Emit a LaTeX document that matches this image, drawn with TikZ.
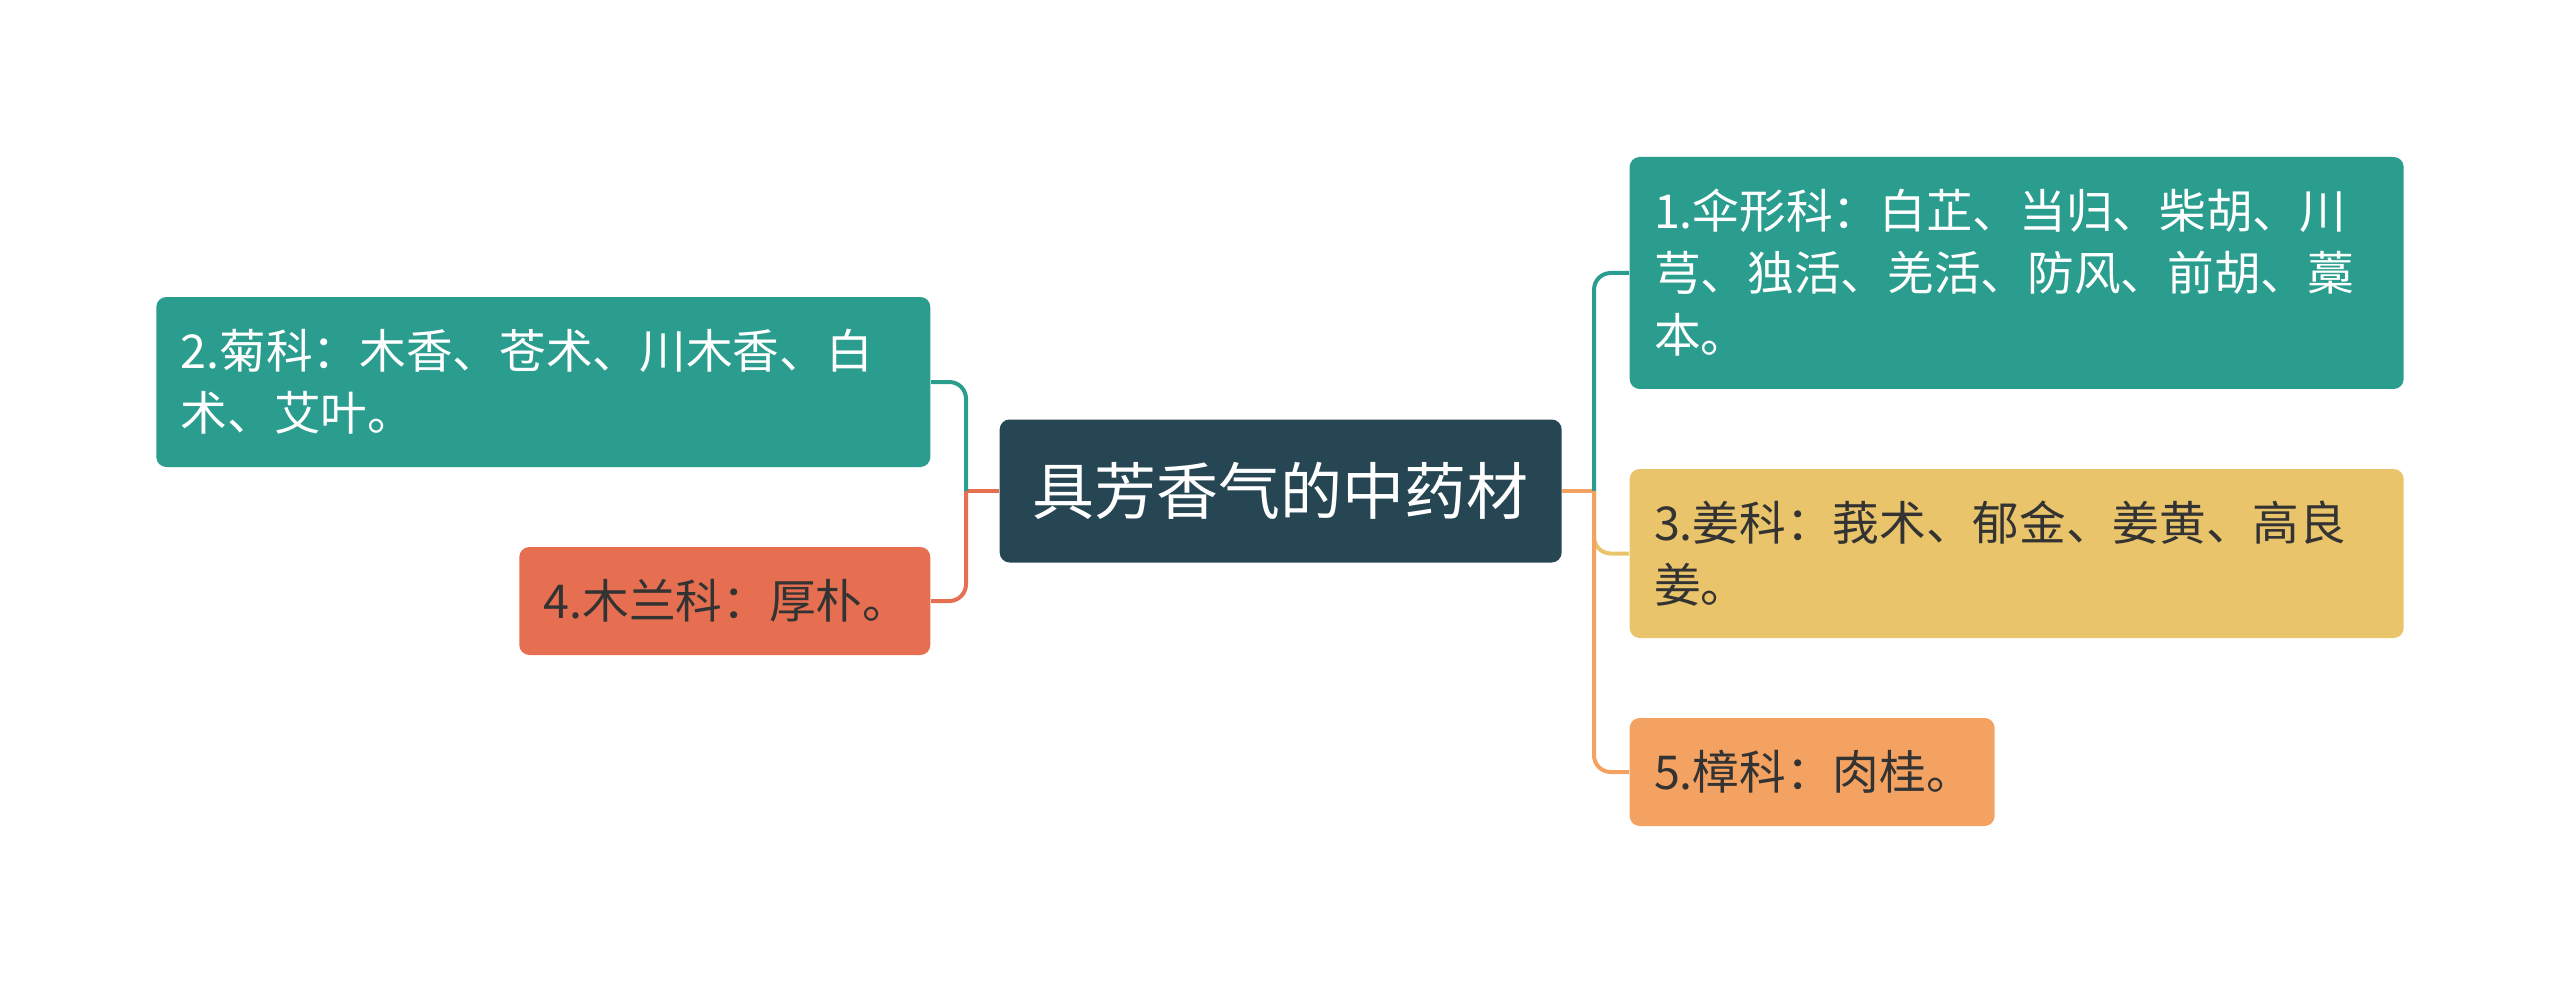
\documentclass[tikz,border=0pt]{standalone}
\usepackage{fontspec}
\setmainfont{Noto Sans CJK SC}
\usetikzlibrary{positioning}
\definecolor{mapTeal}{HTML}{2A9D8F}
\definecolor{mapNavy}{HTML}{264653}
\definecolor{mapSand}{HTML}{E9C46A}
\definecolor{mapPeach}{HTML}{F4A261}
\definecolor{mapCoral}{HTML}{E76F51}
\definecolor{mapInk}{HTML}{333333}

\begin{document}
\begin{tikzpicture}[x=0.3pt,y=-0.3pt,
  leaf/.style={rounded corners=3pt,inner xsep=7.3pt,inner ysep=0pt,align=left,font=\fontsize{14}{18.6}\selectfont},
  link/.style={line width=1.2pt,rounded corners=5pt}]
\useasboundingbox (0,0) rectangle (2560,983);
\node[fill=mapNavy,text=white,rounded corners=3pt,anchor=west,minimum width=168.6pt,minimum height=42.9pt,inner sep=0pt,font=\fontsize{18.6}{22}\selectfont] (hub) at (999,491) {具芳香气的中药材};
% left side
\node[leaf,fill=mapTeal,text=white,anchor=east,text width=217.6pt,minimum height=51pt] (juke) at (931,382) {2.菊科：木香、苍术、川木香、白\\术、艾叶。};
\node[leaf,fill=mapCoral,text=mapInk,anchor=east,text width=108.7pt,minimum height=32.4pt] (mulan) at (931,601) {4.木兰科：厚朴。};
% right side
\node[leaf,fill=mapTeal,text=white,anchor=west,text width=217.6pt,minimum height=69.6pt] (sanxing) at (1629,273) {1.伞形科：白芷、当归、柴胡、川\\芎、独活、羌活、防风、前胡、藁\\本。};
\node[leaf,fill=mapSand,text=mapInk,anchor=west,text width=217.6pt,minimum height=50.7pt] (jiang) at (1629,553.5) {3.姜科：莪术、郁金、姜黄、高良\\姜。};
\node[leaf,fill=mapPeach,text=mapInk,anchor=west,text width=94.9pt,minimum height=32.4pt] (zhang) at (1629,772) {5.樟科：肉桂。};
\coordinate (lj) at (966,491);
\coordinate (rj) at (1594,491);
\draw[link,mapCoral] (hub.west) -- (lj);
\draw[link,mapTeal] (lj) |- (juke.east);
\draw[link,mapCoral] (lj) |- (mulan.east);
\draw[link,mapPeach] (hub.east) -- (rj);
\draw[link,mapTeal] (rj) |- (sanxing.west);
\draw[link,mapSand] (rj) |- (jiang.west);
\draw[link,mapPeach] (rj) |- (zhang.west);
\end{tikzpicture}
\end{document}
